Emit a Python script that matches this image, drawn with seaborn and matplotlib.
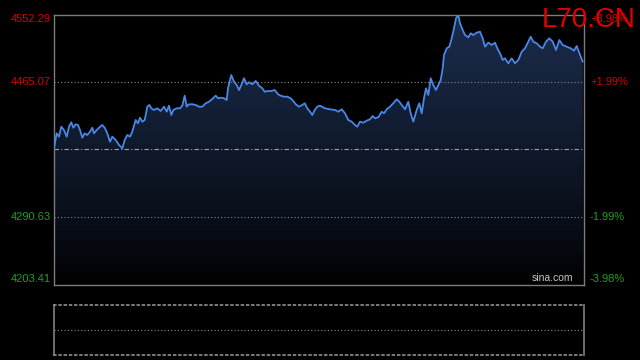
import numpy as np
import pandas as pd
import matplotlib
matplotlib.use("Agg")
import matplotlib.pyplot as plt
import seaborn as sns
from matplotlib.transforms import blended_transform_factory

# ---------------- data ----------------
t = [0, 2.7, 5, 7.3, 10, 12.7, 15, 17.3, 19.3, 21.7, 24, 26, 28.3, 30.7, 33.3, 36, 38.3, 40,
     42.7, 45, 48.3, 50.7, 53.3, 56, 58.3, 61.7, 65, 68.3, 70.7, 73.3, 76, 78.3, 81.7, 84, 86,
     88.3, 90.7, 93.3, 95.3, 97.3, 100, 103.3, 106.7, 110, 112.7, 115, 117.3, 119.3, 122.7,
     126, 128.3, 130.7, 132.7, 135, 138.3, 141.7, 145, 148.3, 151.7, 155, 158.3, 161.7, 164,
     166.7, 170, 172.7, 174, 176, 177.3, 180, 182.7, 185, 187.3, 190, 192.7, 195, 198.3,
     201.7, 205, 208.3, 210.7, 214, 217.3, 220.7, 224, 226.7, 230, 233.3, 236.7, 239.3,
     241.7, 245, 248.3, 250.7, 253.3, 256, 258.3, 260.7, 263.3, 266,
     271, 276, 281, 284.3, 287.7, 291, 294.3, 297.7, 301, 303.3, 306, 309.3, 312.7, 316,
     318.7, 321, 324.3, 327.7, 330, 332.7, 336, 339.3, 342.7, 345.3, 347.7, 351, 354.3,
     356.7, 359.3, 362.7, 365.3, 367.7, 370, 372, 374.3, 376.7, 379.3, 382, 384.3, 386.7,
     388.7, 390, 392.7, 395.3, 397.7, 400, 402, 404.3, 406, 408.7, 411, 414.3, 416.7,
     419.3, 422.7, 426, 428.7, 431, 434.3, 437.7, 441, 443.3, 446, 448.7, 451, 454.3,
     457.7, 461, 464.3, 467.7, 471, 474.3, 476.7, 479.3, 482.7, 486, 488.7, 492, 495.3,
     498.7, 502, 505.3, 508.7, 512.7, 516.7, 520, 522.7, 525.3, 528.7]
price = [4379.4, 4398.8, 4394.4, 4407.3, 4403.0, 4394.4, 4407.3, 4413.0, 4406.0, 4410.4,
         4409.5, 4403.0, 4393.1, 4398.8, 4396.6, 4400.9, 4406.0, 4398.8, 4403.0, 4406.0,
         4409.5, 4406.0, 4398.8, 4387.9, 4394.4, 4390.1, 4383.7, 4379.4, 4390.1, 4396.6,
         4394.4, 4400.9, 4416.0, 4411.7, 4418.9, 4413.8, 4416.0, 4433.2, 4435.4, 4431.1,
         4428.9, 4431.1, 4427.6, 4433.2, 4426.7, 4434.5, 4422.4, 4428.9, 4431.1, 4431.1,
         4434.5, 4447.4, 4433.2, 4436.3, 4436.3, 4435.4, 4433.2, 4433.2, 4437.6, 4439.6,
         4443.1, 4447.4, 4444.0, 4444.8, 4444.0, 4441.8, 4456.9, 4467.7, 4474.1, 4465.5,
         4461.2, 4454.7, 4461.2, 4469.9, 4462.1, 4464.7, 4462.1, 4466.4, 4460.3, 4456.9,
         4452.5, 4453.4, 4453.4, 4454.7, 4449.2, 4447.4, 4446.1, 4446.1, 4444.0, 4440.5,
         4436.3, 4433.2, 4435.4, 4437.6, 4431.1, 4426.7, 4422.4, 4428.9, 4433.2, 4434.5,
         4431.1, 4429.8, 4428.9, 4426.7, 4429.8, 4424.6, 4416.0, 4413.8, 4409.5, 4407.3,
         4413.8, 4412.5, 4415.1, 4416.9, 4421.1, 4418.2, 4419.5, 4426.7, 4424.6, 4429.8,
         4433.2, 4437.6, 4442.7, 4439.6, 4435.4, 4429.8, 4439.6, 4424.6, 4413.8, 4428.9,
         4437.6, 4424.6, 4444.0, 4456.9, 4448.3, 4469.9, 4461.2, 4454.7, 4461.2, 4467.7,
         4482.8, 4500.0, 4508.6, 4510.7, 4521.5, 4534.5, 4547.4, 4551.7, 4540.9, 4532.3,
         4525.8, 4522.8, 4528.0, 4525.8, 4528.8, 4530.1, 4521.5, 4510.7, 4515.9, 4512.9,
         4515.9, 4508.6, 4502.2, 4493.5, 4495.7, 4489.2, 4495.7, 4489.2, 4493.5, 4504.2,
         4508.6, 4517.2, 4523.6, 4517.2, 4515.1, 4510.7, 4508.6, 4517.2, 4521.5, 4517.2,
         4506.4, 4519.3, 4512.9, 4510.7, 4508.6, 4505.5, 4511.6, 4502.9, 4491.3]

prev_close = 4377.85
price_ticks = [4552.29, 4465.07, 4290.63, 4203.41]
price_labels = ["4552.29", "4465.07", "4290.63", "4203.41"]
pct_labels = ["+3.98%", "+1.99%", "-1.99%", "-3.98%"]
title = "L70.CN"
watermark = "sina.com"

# ---------------- style ----------------
sns.set_theme(style="dark")
plt.rcParams["font.family"] = ["Liberation Sans", "DejaVu Sans"]

BG = "#000000"
FRAME = "#7c7c7c"
GRID = "#8a8a8a"
LINE = "#4a86e4"
RED = "#d40000"
GREEN = "#1ea01e"

fig = plt.figure(figsize=(6.4, 3.6), dpi=100, facecolor=BG)
W, H = 640.0, 360.0
ax = fig.add_axes([54 / W, 1 - 284.5 / H, 530 / W, 270 / H])
ax2 = fig.add_axes([54 / W, 1 - 355 / H, 530 / W, 50.5 / H])

ymin, ymax = price_ticks[-1], price_ticks[0]
xmax = 530

df = pd.DataFrame({"t": t, "price": price})

for a in (ax, ax2):
    a.set_facecolor(BG)
    a.grid(False)

# gradient fill under the line
poly = ax.fill_between(df["t"], df["price"], ymin, color="none", lw=0)
top = np.array([0x1b, 0x2c, 0x4c]) / 255.0
f = np.linspace(1, 0, 256) ** 0.8
grad = (f[:, None] * top[None, :])[:, None, :].repeat(2, axis=1)
im = ax.imshow(grad, extent=[0, xmax, ymin, ymax], aspect="auto", origin="upper",
               zorder=1, interpolation="bilinear")
path = poly.get_paths()[0]
im.set_clip_path(path, transform=ax.transData)

# grid lines
for v in (price_ticks[1], price_ticks[2]):
    ax.axhline(v, color=GRID, lw=0.8, ls=(0, (1, 2)), zorder=2)
ax.axhline(prev_close, color="#a0a0a0", lw=0.8, ls=(0, (4, 2, 1, 2)), zorder=2)

sns.lineplot(data=df, x="t", y="price", ax=ax, color=LINE, lw=1.3, zorder=3)

ax.set_xlim(0, xmax)
ax.set_ylim(ymin, ymax)
ax.set_xlabel("")
ax.set_ylabel("")
ax.set_xticks([])
for s in ax.spines.values():
    s.set_visible(True)
    s.set_color(FRAME)
    s.set_linewidth(1.0)

colors = [RED, RED, GREEN, GREEN]
vas = ["top", "center", "center", "bottom"]
ax.set_yticks(price_ticks)
ax.set_yticklabels(price_labels)
ax.tick_params(axis="y", length=0, pad=2.5, labelsize=8)
for lab, c, va in zip(ax.get_yticklabels(), colors, vas):
    lab.set_color(c)
    lab.set_va(va)

tw = blended_transform_factory(ax.transAxes, ax.transData)
for v, s, c, va in zip(price_ticks, pct_labels, colors, vas):
    ax.text(1.0 + 6 / 530, v, s, transform=tw, color=c, fontsize=8, ha="left", va=va)

ax.text((573 - 54) / 530, 0.012, watermark, transform=ax.transAxes, color="#c8c8c8",
        fontsize=7.5, ha="right", va="baseline", zorder=5)

fig.text(636 / W, 1 - 27 / H, title, color="#e00000", fontsize=20, ha="right",
         va="baseline")

# lower panel
ax2.set_xlim(0, xmax)
ax2.set_ylim(0, 1)
ax2.set_xticks([])
ax2.set_yticks([])
for k in ("left", "right"):
    ax2.spines[k].set_visible(True)
    ax2.spines[k].set_color(FRAME)
for k in ("top", "bottom"):
    ax2.spines[k].set_visible(True)
    ax2.spines[k].set_color(GRID)
    ax2.spines[k].set_linestyle((0, (1, 2)))
ax2.axhline(0.5, color=GRID, lw=0.8, ls=(0, (1, 2)))

fig.savefig("out.png", dpi=100, facecolor=BG)
